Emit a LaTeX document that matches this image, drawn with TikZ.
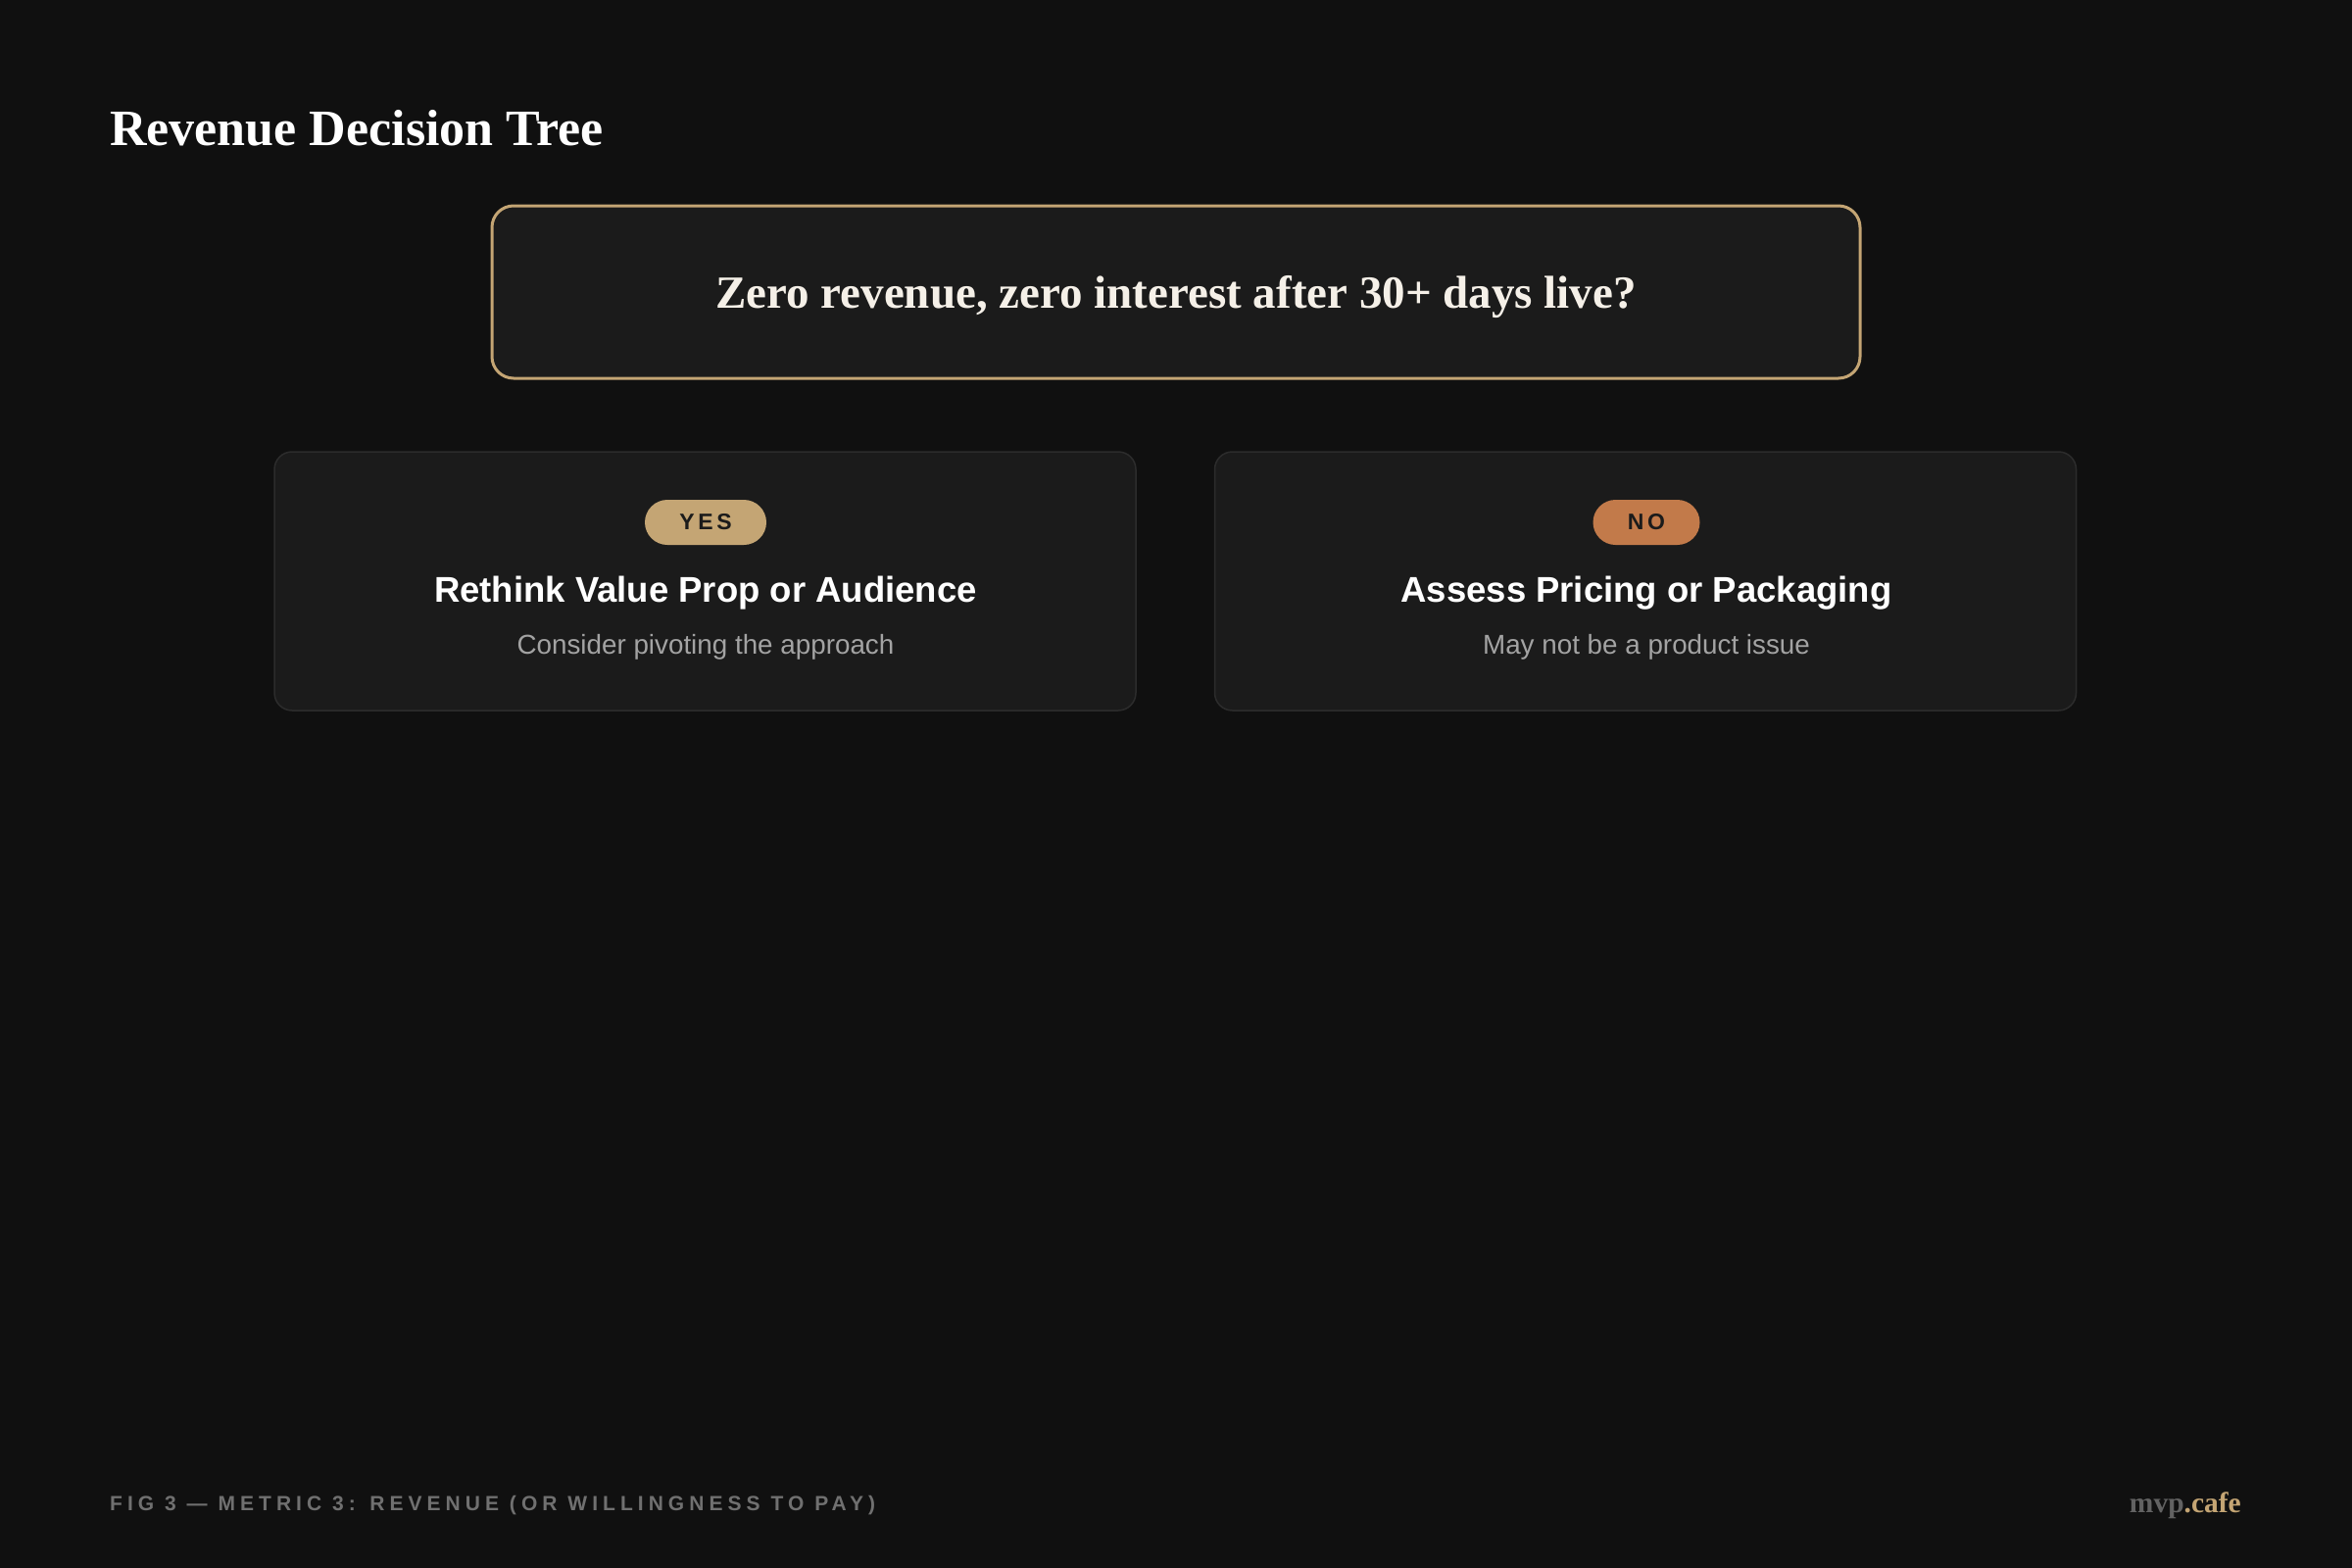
\documentclass[tikz,border=0pt]{standalone}
\usepackage{fontspec}
\setmainfont{Liberation Serif}
\setsansfont{Liberation Sans}
\newfontfamily\capsfont[LetterSpace=16]{Liberation Sans}
\newfontfamily\footfont[LetterSpace=24]{Liberation Sans}

\definecolor{bgdark}{HTML}{101010}
\definecolor{cardfill}{HTML}{1B1B1B}
\definecolor{cardline}{HTML}{2C2C2C}
\definecolor{gold}{HTML}{C4A574}
\definecolor{copper}{HTML}{C27A4A}
\definecolor{ivory}{HTML}{F5F0E8}
\definecolor{subgray}{HTML}{A3A3A3}
\definecolor{footgray}{HTML}{707070}

\begin{document}
\begin{tikzpicture}[x=1pt,y=-1pt]
    \def\cw{879}
    \def\ch{264}

    \tikzset{card/.style={
        draw=cardline,
        line width=1.5pt,
        fill=cardfill,
        rounded corners=18pt,
        minimum width=\cw,
        minimum height=\ch,
        inner sep=0pt
    }}
    \tikzset{badge/.style={
        rounded corners=23pt,
        minimum width=#1,
        minimum height=46pt,
        inner sep=0pt,
        text=cardfill,
        font=\capsfont\bfseries\fontsize{23}{27}\selectfont
    }}
    \tikzset{head/.style={
        anchor=base,
        text=white,
        font=\sffamily\bfseries\fontsize{36.5}{42}\selectfont
    }}
    \tikzset{sub/.style={
        anchor=base,
        text=subgray,
        font=\sffamily\fontsize{27.8}{32}\selectfont
    }}

    % background
    \fill[bgdark] (0,0) rectangle (2400,1600);
    \useasboundingbox (0,0) rectangle (2400,1600);

    % title
    \node[anchor=base west, inner sep=0pt, text=white,
          font=\bfseries\fontsize{52}{60}\selectfont] (title) at (112,148) {Revenue Decision Tree};

    % question
    \node[draw=gold, line width=3pt, fill=cardfill, rounded corners=22pt,
          minimum width=1396, minimum height=176, inner sep=0pt] (question) at (1200,298) {};
    \node[anchor=base, text=ivory, font=\bfseries\fontsize{47}{54}\selectfont]
          (questiontext) at (1200,314) {Zero revenue, zero interest after 30+ days live?};

    % yes branch
    \node[card] (yescard) at (719.5,593) {};
    \node[badge=124pt, fill=gold] (yesbadge) at (720,533) {YES};
    \node[head] (yeshead) at (720,614) {Rethink Value Prop or Audience};
    \node[sub]  (yessub)  at (720,667) {Consider pivoting the approach};

    % no branch
    \node[card] (nocard) at (1679,593) {};
    \node[badge=109pt, fill=copper] (nobadge) at (1680,533) {NO};
    \node[head] (nohead) at (1680,614) {Assess Pricing or Packaging};
    \node[sub]  (nosub)  at (1680,667) {May not be a product issue};

    % footer
    \node[anchor=base west, inner sep=0pt, text=footgray,
          font=\footfont\bfseries\fontsize{21}{25}\selectfont]
          (caption) at (112,1541) {FIG 3 — METRIC 3: REVENUE (OR WILLINGNESS TO PAY)};
    \node[anchor=base east, inner sep=0pt,
          font=\bfseries\fontsize{29.5}{34}\selectfont]
          (brand) at (2287,1543) {\textcolor{footgray!110}{mvp}\textcolor{gold}{.cafe}};
\end{tikzpicture}
\end{document}
